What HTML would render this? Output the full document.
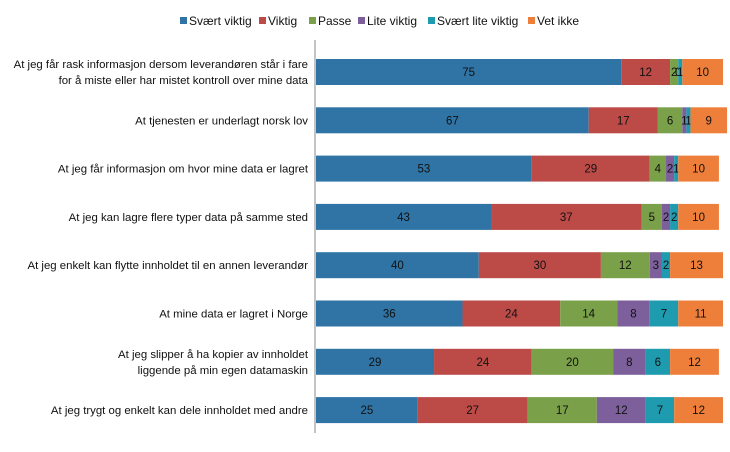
<!DOCTYPE html>
<html><head><meta charset="utf-8"><style>
body{margin:0;background:#fff;font-family:"Liberation Sans",sans-serif}
svg text{font-family:"Liberation Sans",sans-serif;fill:#111}
</style></head><body>
<svg id="c" width="730" height="447"></svg>
<script>
const categories=[
["At jeg får rask informasjon dersom leverandøren står i fare","for å miste eller har mistet kontroll over mine data"],
["At tjenesten er underlagt norsk lov"],
["At jeg får informasjon om hvor mine data er lagret"],
["At jeg kan lagre flere typer data på samme sted"],
["At jeg enkelt kan flytte innholdet til en annen leverandør"],
["At mine data er lagret i Norge"],
["At jeg slipper å ha kopier av innholdet","liggende på min egen datamaskin"],
["At jeg trygt og enkelt kan dele innholdet med andre"]];
const seriesNames=["Svært viktig","Viktig","Passe","Lite viktig","Svært lite viktig","Vet ikke"];
const svaertViktig=[75,67,53,43,40,36,29,25];
const viktig=[12,17,29,37,30,24,24,27];
const passe=[2,6,4,5,12,14,20,17];
const liteViktig=[0,1,2,2,3,8,8,12];
const svaertLiteViktig=[1,1,1,2,2,7,6,7];
const vetIkke=[10,9,10,10,13,11,12,12];
const series=[svaertViktig,viktig,passe,liteViktig,svaertLiteViktig,vetIkke];
const colors=["#2f74a5","#bc4b48","#7aa04a","#7c5f9b","#1f9bb0","#ee7f3b"];
const NS="http://www.w3.org/2000/svg",svg=document.getElementById('c');
function mk(t,a,p){const e=document.createElementNS(NS,t);for(const k in a)e.setAttribute(k,a[k]);(p||svg).appendChild(e);return e;}
const x0=316,k=4.07,y0=72,step=48.3,bh=26;
const xs=v=>v*k, yc=i=>y0+i*step;
const lx=[180,259,309,358,428,528];
seriesNames.forEach((n,j)=>{
 const g=mk('g',{});
 
 
 mk('rect',{x:lx[j],y:17,width:7,height:7,fill:colors[j]},g);
 const t=mk('text',{x:lx[j]+9,y:25,'font-size':12},g);t.textContent=n;
});
categories.forEach((c,i)=>{
 const y=yc(i);
 const t=mk('text',{x:308,y:y-(c.length-1)*8+4,'text-anchor':'end','font-size':11.4});
 
 
 c.forEach((l,li)=>{const s=mk('tspan',{x:308,dy:li?16:0},t);s.textContent=l;});
 let acc=0;
 series.forEach((s,j)=>{
  const v=s[i];const x=x0+xs(acc);
  const r=mk('rect',{x:x,y:y-bh/2,width:xs(v),height:bh,fill:colors[j]});
  
  
  if(v>0||j===3){const tt=mk('text',{x:x+xs(v)/2,y:y+4,'text-anchor':'middle','font-size':11.5});tt.textContent=v;}
  acc+=v;
 });
});
const ax=mk('line',{x1:x0-1,y1:40,x2:x0-1,y2:433,stroke:'#888','stroke-width':1});


</script>
</body></html>
